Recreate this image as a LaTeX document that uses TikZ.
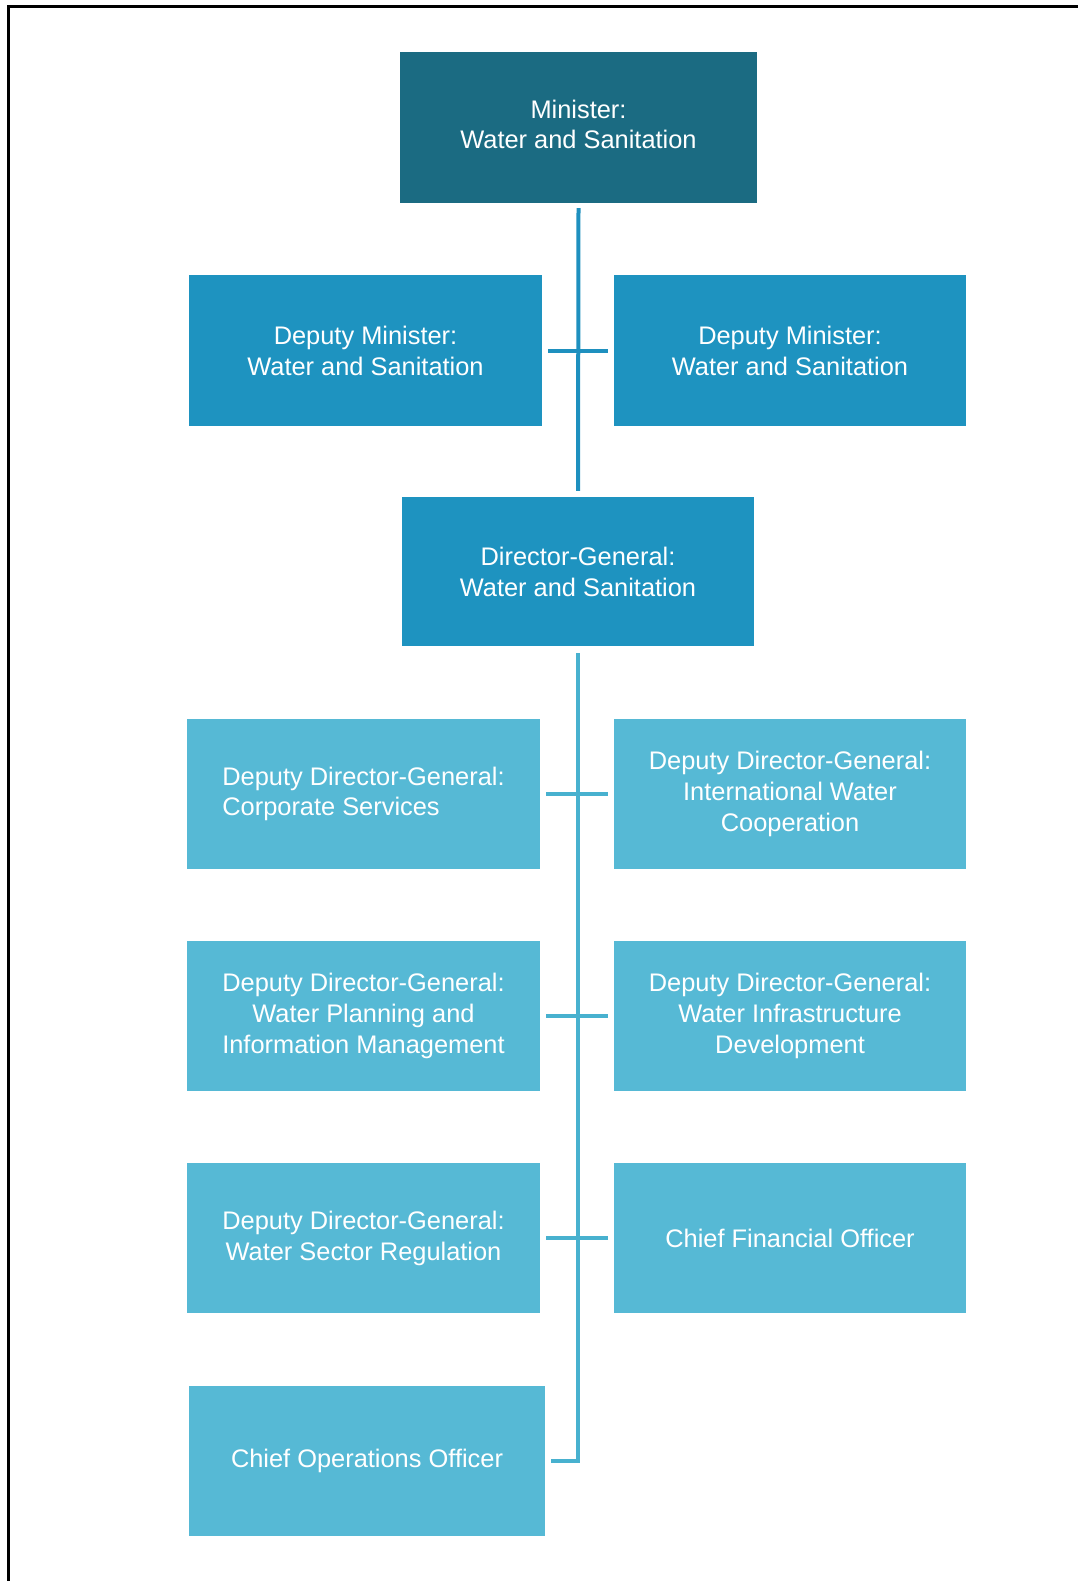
\documentclass[tikz,border=0pt]{standalone}
\usepackage{fontspec}
\setmainfont{Liberation Sans}
\definecolor{cMin}{HTML}{1B6B82}
\definecolor{cMid}{HTML}{1E93C0}
\definecolor{cLow}{HTML}{56B9D5}
\definecolor{lnMid}{HTML}{1E90BF}
\definecolor{lnLow}{HTML}{48B1CF}
\tikzset{
  orgbox/.style={rectangle, inner sep=0pt, text=white, align=center,
    font=\fontsize{25.4}{31}\selectfont, minimum width=352pt, minimum height=150pt},
  minbox/.style={orgbox, fill=cMin},
  midbox/.style={orgbox, fill=cMid},
  lowbox/.style={orgbox, fill=cLow},
  linkmid/.style={draw=lnMid, line width=4pt},
  linklow/.style={draw=lnLow, line width=4pt},
  frameline/.style={draw=black, line width=3pt}
}
\begin{document}
\begin{tikzpicture}[x=1pt,y=-1pt]
\useasboundingbox (0,0) rectangle (1078,1581);
\coordinate (fA) at (1078,7);
\coordinate (fB) at (8,7);
\coordinate (fC) at (8,1581);
\draw[frameline] (fA) -- (fB) -- (fC);

\node[minbox, minimum width=357pt, minimum height=151pt] (min) at (578.5,127.5) {\raisebox{5pt}{\begin{tabular}{@{}c@{}}Minister:\\[-0.5pt]Water and Sanitation\end{tabular}}};
\node[midbox, minimum width=353pt, minimum height=151pt] (dml) at (365.5,350.5) {Deputy Minister:\\Water and Sanitation};
\node[midbox, minimum height=151pt] (dmr) at (790,350.5) {Deputy Minister:\\Water and Sanitation};
\node[midbox, minimum height=149pt] (dg) at (578,571.5) {Director-General:\\Water and Sanitation};

\node[lowbox, minimum width=353pt] (ddg1) at (363.5,794) {\begin{tabular}{@{}l@{}}Deputy Director-General:\\[-1pt]Corporate Services\end{tabular}};
\node[lowbox] (ddg2) at (790,794) {Deputy Director-General:\\International Water\\Cooperation};
\node[lowbox, minimum width=353pt] (ddg3) at (363.5,1016) {Deputy Director-General:\\Water Planning and\\Information Management};
\node[lowbox] (ddg4) at (790,1016) {Deputy Director-General:\\Water Infrastructure\\Development};
\node[lowbox, minimum width=353pt] (ddg5) at (363.5,1238) {Deputy Director-General:\\Water Sector Regulation};
\node[lowbox] (cfo) at (790,1238) {Chief Financial Officer};
\node[lowbox, minimum width=356pt] (coo) at (367,1461) {Chief Operations Officer};

% upper connectors
\draw[linkmid] ([yshift=-5pt]min.south) -- ([yshift=6pt]dg.north);
\draw[linkmid] ([xshift=6pt]dml.east) -- ([xshift=-6pt]dmr.west);

% lower connectors
\draw[linklow] ([yshift=-7pt]dg.south) |- ([xshift=6pt]coo.east);
\draw[linklow] ([xshift=6pt]ddg1.east) -- ([xshift=-6pt]ddg2.west);
\draw[linklow] ([xshift=6pt]ddg3.east) -- ([xshift=-6pt]ddg4.west);
\draw[linklow] ([xshift=6pt]ddg5.east) -- ([xshift=-6pt]cfo.west);
\end{tikzpicture}
\end{document}
